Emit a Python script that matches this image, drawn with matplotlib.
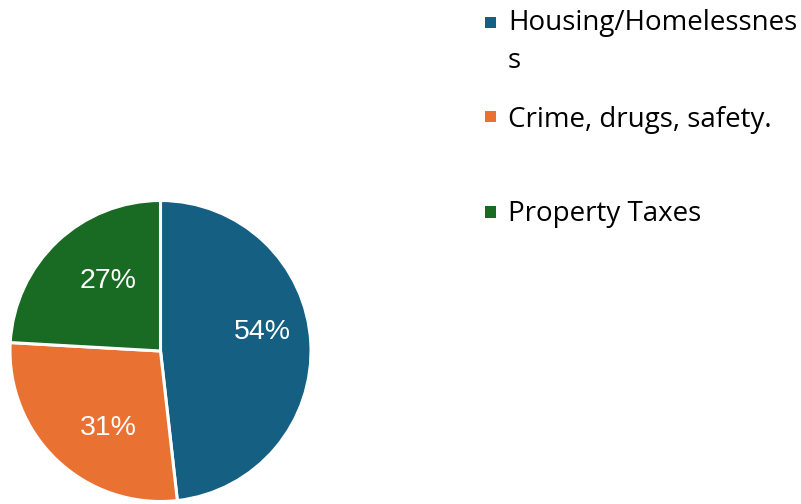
import matplotlib
matplotlib.use("Agg")
import matplotlib.pyplot as plt
from matplotlib.patches import Rectangle
from matplotlib.transforms import offset_copy

categories = ["Housing/Homelessnes\ns", "Crime, drugs, safety.", "Property Taxes"]
values = [54, 31, 27]
value_labels = ["54%", "31%", "27%"]
colors = ["#156082", "#E97132", "#196B24"]

W, H = 801, 504
fig = plt.figure(figsize=(W / 100, H / 100), dpi=100)
fig.patch.set_facecolor("white")

# pie axes: center (160.5, 351), radius 150.5 px
cx, cy, r = 160.5, 351, 150.5
ax = fig.add_axes([(cx - r) / W, (H - cy - r) / H, 2 * r / W, 2 * r / H])
labels_iter = iter(value_labels)
wedges, _, autotexts = ax.pie(
    values, colors=colors, startangle=90, counterclock=False, radius=1,
    wedgeprops=dict(edgecolor="white", linewidth=2.2),
    autopct=lambda p: next(labels_iter), pctdistance=0.64,
    textprops=dict(color="white", fontsize=20.5, family="Liberation Sans"),
)
# Excel "best fit" label nudges (pixels; x right, y up)
nudges = [(6, 14), (14, -7), (14, 0)]
for t, (dx, dy) in zip(autotexts, nudges):
    t.set_transform(offset_copy(ax.transData, fig=fig, x=dx, y=dy, units="dots"))
ax.set_xlim(-1, 1)
ax.set_ylim(-1, 1)
ax.set_aspect("equal")
ax.axis("off")

# legend drawn manually (first-line aligned markers)
leg_baselines = [30, 127, 221]
leg_marker_centers = [22.5, 116.5, 212]
line_gap = 38
for lab, col, base, mc in zip(categories, colors, leg_baselines, leg_marker_centers):
    fig.patches.append(Rectangle((485 / W, (H - mc - 5.5) / H), 11 / W, 11 / H,
                                 transform=fig.transFigure, facecolor=col,
                                 edgecolor="none"))
    for i, line in enumerate(lab.split("\n")):
        fig.text(508 / W, (H - base - i * line_gap) / H, line, fontsize=20,
                 family="Open Sans", color="#000000", va="baseline", ha="left")

fig.savefig("out.png", dpi=100)
